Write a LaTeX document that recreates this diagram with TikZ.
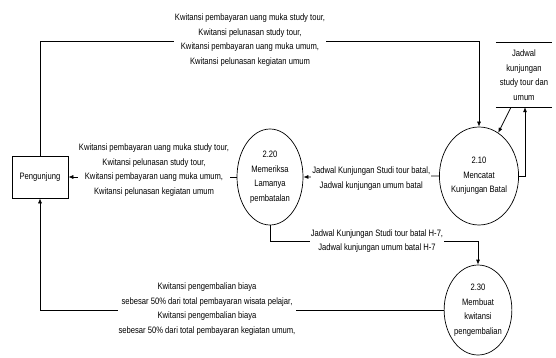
\documentclass[tikz,border=0pt]{standalone}
\usepackage{fontspec}
\setmainfont{Liberation Sans}[FakeStretch=0.82]
\usetikzlibrary{shapes.geometric,arrows.meta}
\begin{document}
\begin{tikzpicture}[x=1pt,y=-1pt,
  font=\fontsize{9.3}{14.5}\selectfont,
  flow/.style={draw, line width=0.7pt, -{Latex[length=5pt,width=4pt]}},
  proc/.style={draw, ellipse, line width=0.7pt, inner sep=0pt, align=center},
  lbl/.style={fill=white, align=center, inner sep=1pt}]
\useasboundingbox (0,0) rectangle (556,358);
\node[draw, line width=0.7pt, minimum width=56pt, minimum height=42pt] (peng) at (40,177) {Pengunjung};
\node[proc, minimum width=66pt, minimum height=96pt] (p220) at (270,177) {2.20\\Memeriksa\\Lamanya\\pembatalan};
\node[proc, minimum width=62pt, minimum height=98pt] (p210) at (479,176) {2.10\\Mencatat\\Kunjungan Batal};
\node[proc, minimum width=62pt, minimum height=90pt] (p230) at (478,310) {2.30\\Membuat\\kwitansi\\pengembalian};
\node[align=center, minimum width=56pt, minimum height=64pt, inner sep=0pt] (store) at (524,75) {Jadwal\\kunjungan\\study tour dan\\umum};
\draw[line width=0.7pt] (store.north west) -- (store.north east) (store.south west) -- (store.south east);

\coordinate (ytop) at (0,41);
\coordinate (ymid) at (0,241);

\draw[flow] (peng.north) |- (p210.north |- ytop) -- (p210.north);
\node[lbl] (l1) at (250,40) {Kwitansi pembayaran uang muka study tour,\\Kwitansi pelunasan study tour,\\Kwitansi pembayaran uang muka umum,\\Kwitansi pelunasan kegiatan umum};

\draw[flow] ([xshift=-13pt]store.south) -- (p210.66);
\draw[flow] (p210.east) -| ([xshift=1pt]store.south);

\draw[flow] (p210.west) -- (p220.east) node[lbl, pos=0.5, yshift=-2pt] (l2) {Jadwal Kunjungan Studi tour batal,\\Jadwal kunjungan umum batal};

\draw[flow] (p220.west) -- (peng.east);
\node[lbl] (l3) at (154,170) {Kwitansi pembayaran uang muka study tour,\\Kwitansi pelunasan study tour,\\Kwitansi pembayaran uang muka umum,\\Kwitansi pelunasan kegiatan umum};

\draw[flow] (p220.south) |- (p230.north |- ymid) -- (p230.north);
\node[lbl] (l4) at (377,241) {Jadwal Kunjungan Studi tour batal H-7,\\Jadwal kunjungan umum batal H-7};

\draw[flow] (p230.west) -| (peng.south);
\node[lbl] (l5) at (207,309) {Kwitansi pengembalian biaya\\sebesar 50\% dari total pembayaran wisata pelajar,\\Kwitansi pengembalian biaya\\sebesar 50\% dari total pembayaran kegiatan umum,};
\end{tikzpicture}
\end{document}
